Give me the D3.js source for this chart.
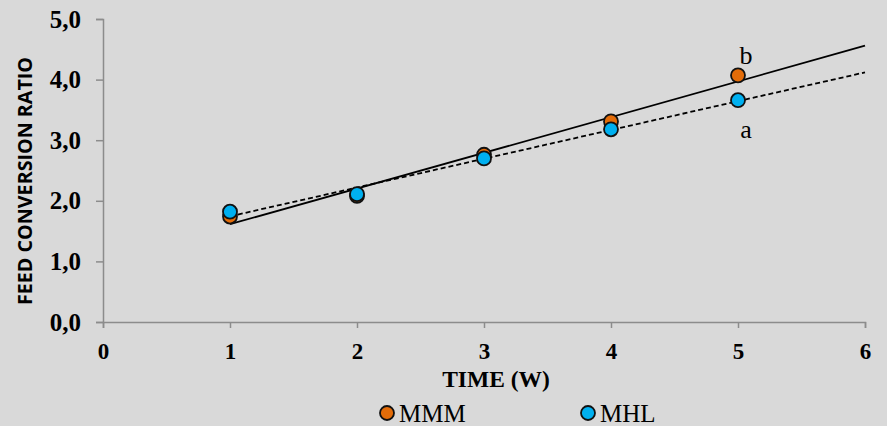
<!DOCTYPE html>
<html>
<head>
<meta charset="utf-8">
<script src="https://cdn.jsdelivr.net/npm/d3@7"></script>
<style>
  html, body { margin: 0; padding: 0; background: #d9d9d9; }
  svg { display: block; }
</style>
</head>
<body>
<svg id="chart" width="887" height="426"></svg>
<script>
// Weekly feed conversion ratio for two groups
const weeks = [1, 2, 3, 4, 5];
const mmmValues = [1.74, 2.08, 2.76, 3.31, 4.07];
const mhlValues = [1.82, 2.11, 2.70, 3.18, 3.66];
const seriesNames = ["MMM", "MHL"];
const seriesColors = ["#e36c09", "#00b0f0"];
const xTicks = [0, 1, 2, 3, 4, 5, 6];
const yTicks = [0, 1, 2, 3, 4, 5];
const endLabels = ["b", "a"];

const svg = d3.select("#chart");
const margin = { left: 103, right: 22, top: 19, bottom: 104 };
const W = 887, H = 426;
const serif = "Liberation Serif, Times New Roman, serif";

const x = d3.scaleLinear().domain([0, 6]).range([margin.left, W - margin.right]);
const y = d3.scaleLinear().domain([0, 5]).range([H - margin.bottom, margin.top]);

const axisColor = "#8c8c8c";
const fmt = d => d3.format(".1f")(d).replace(".", ",");

// Y axis
const gy = svg.append("g").attr("transform", `translate(${x(0)},0)`)
  .call(d3.axisLeft(y).tickValues(yTicks).tickSize(7).tickPadding(15).tickFormat(fmt));
gy.select(".domain").attr("stroke", axisColor).attr("stroke-width", 1.5);
gy.selectAll(".tick line").attr("stroke", axisColor).attr("stroke-width", 1.5);
gy.selectAll(".tick text")
  .attr("fill", "#000").style("font-family", serif)
  .style("font-weight", "bold").style("font-size", "25px");

// X axis
const gx = svg.append("g").attr("transform", `translate(0,${y(0)})`)
  .call(d3.axisBottom(x).tickValues(xTicks).tickSize(6).tickPadding(15).tickFormat(d3.format("d")));
gx.select(".domain").attr("stroke", axisColor).attr("stroke-width", 1.5);
gx.selectAll(".tick line").attr("stroke", axisColor).attr("stroke-width", 1.5);
gx.selectAll(".tick text")
  .attr("fill", "#000").style("font-family", serif)
  .style("font-weight", "bold").style("font-size", "23px");

// Axis titles
svg.append("text")
  .attr("x", 496).attr("y", 387)
  .attr("text-anchor", "middle")
  .style("font-family", serif)
  .style("font-weight", "bold").style("font-size", "23.5px")
  .text("TIME (W)");

svg.append("text")
  .attr("transform", "translate(32,181) rotate(-90)")
  .attr("text-anchor", "middle")
  .attr("textLength", 248).attr("lengthAdjust", "spacingAndGlyphs")
  .style("font-family", "Open Sans, sans-serif")
  .style("font-weight", "bold").style("font-size", "20px")
  .text("FEED CONVERSION RATIO");

// Least-squares linear trend for a series
function trend(xs, ys) {
  const mx = d3.mean(xs), my = d3.mean(ys);
  const num = d3.sum(xs, (v, i) => (v - mx) * (ys[i] - my));
  const den = d3.sum(xs, v => (v - mx) * (v - mx));
  const slope = num / den;
  return { slope, intercept: my - slope * mx };
}

const series = [mmmValues, mhlValues];
const dashes = [null, "5,3"];

// Trend lines, extended forward to week 6
series.forEach((vals, i) => {
  const t = trend(weeks, vals);
  const pts = [1, 6].map(v => [v, t.intercept + t.slope * v]);
  svg.append("path")
    .attr("d", d3.line().x(d => x(d[0])).y(d => y(d[1]))(pts))
    .attr("fill", "none").attr("stroke", "#000")
    .attr("stroke-width", 1.8)
    .attr("stroke-dasharray", dashes[i]);
});

// Points
series.forEach((vals, i) => {
  svg.append("g").selectAll("circle")
    .data(weeks.map((w, j) => [w, vals[j]]))
    .join("circle")
    .attr("cx", d => x(d[0])).attr("cy", d => y(d[1]))
    .attr("r", 7)
    .attr("fill", seriesColors[i])
    .attr("stroke", "#111").attr("stroke-width", 1.8);
});

// Significance letters at week 5
svg.append("text")
  .attr("x", x(5) + 8).attr("y", y(mmmValues[4]) - 11)
  .attr("text-anchor", "middle")
  .style("font-family", serif)
  .style("font-size", "26px").text(endLabels[0]);
svg.append("text")
  .attr("x", x(5) + 8).attr("y", y(mhlValues[4]) + 38)
  .attr("text-anchor", "middle")
  .style("font-family", serif)
  .style("font-size", "26px").text(endLabels[1]);

// Legend
const legendX = [387, 588];
seriesNames.forEach((name, i) => {
  const g = svg.append("g").attr("transform", `translate(${legendX[i]},413)`);
  g.append("circle").attr("r", 7).attr("fill", seriesColors[i])
    .attr("stroke", "#111").attr("stroke-width", 1.8);
  g.append("text").attr("x", 12).attr("y", 9)
    .style("font-family", serif)
    .style("font-size", "25px").text(name);
});
</script>
</body>
</html>
